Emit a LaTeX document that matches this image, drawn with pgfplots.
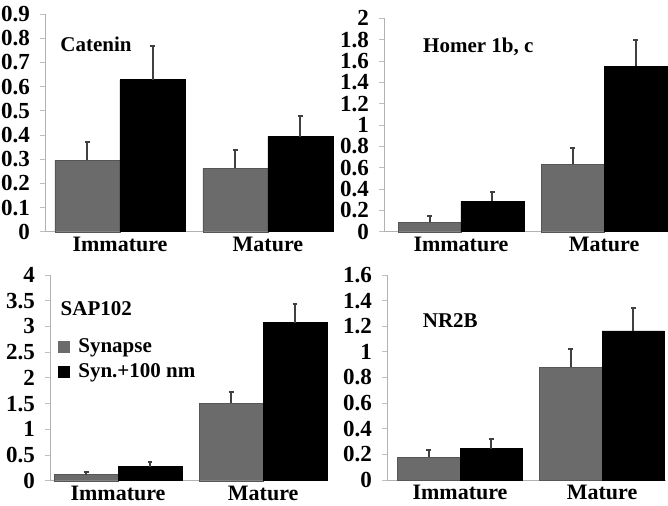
\documentclass[border=0pt]{standalone}
\usepackage{pgfplots}
\usepackage{pgfplotstable}
\pgfplotsset{compat=1.18}
\usepackage{fontspec}
\setmainfont{Liberation Serif}[BoldFont={Liberation Serif Bold}]
\definecolor{bargray}{HTML}{6B6B6B}
\definecolor{errcol}{HTML}{404040}

\pgfplotstableread{
x g ge b be
0 0.295 0.077 0.628 0.140
1 0.262 0.074 0.393 0.087
}\catenin
\pgfplotstableread{
x g ge b be
0 0.088 0.059 0.284 0.088
1 0.631 0.157 1.550 0.247
}\homer
\pgfplotstableread{
x g ge b be
0 0.120 0.055 0.270 0.090
1 1.510 0.210 3.070 0.360
}\sap
\pgfplotstableread{
x g ge b be
0 0.177 0.057 0.245 0.072
1 0.879 0.146 1.163 0.177
}\nrb

\tikzset{ttl/.style={font=\bfseries\fontsize{10.5}{12}\selectfont, anchor=west, fill=white, inner sep=1pt}}
\pgfplotsset{
  panel/.style={
    scale only axis,
    anchor=south west,
    axis x line=bottom,
    axis y line=left,
    axis line style={draw=gray!60, line width=0.5pt, -},
    ymin=0,
    xtick={0,1},
    xticklabels={Immature,Mature},
    xtick style={draw=none},
    ytick style={draw=gray!50, line width=0.4pt},
    tick align=outside,
    major tick length=2.5pt,
    /pgf/number format/assume math mode=true,
    /pgf/number format/fixed,
    /pgf/number format/precision=1,
    yticklabel style={font=\bfseries\fontsize{11.5}{12}\selectfont, xshift=-1.5pt},
    xticklabel style={font=\bfseries\fontsize{11}{12}\selectfont, yshift=3.5pt},
    ybar,
    bar width=0.44,
    clip=false,
    error bars/y dir=plus,
    error bars/y explicit,
    error bars/error bar style={line width=1pt, color=errcol},
    error bars/error mark options={line width=1pt, color=errcol, mark size=1.2pt, rotate=90},
  },
  gbar/.style={fill=bargray, draw=bargray!80!black, line width=0.2pt, bar shift=-0.22},
  bbar/.style={fill=black, draw=black, bar shift=0.22},
}

\begin{document}
\begin{tikzpicture}
\useasboundingbox (0,0) rectangle (334pt,252.5pt);

% Catenin
\begin{axis}[panel, at={(22.5pt,136.65pt)}, width=144pt, height=108.85pt,
  xmin=-0.507, xmax=1.44, ymax=0.9, ytick={0,0.1,...,0.9}]
  \addplot[gbar] table[x=x, y=g, y error=ge] {\catenin};
  \addplot[bbar] table[x=x, y=b, y error=be] {\catenin};
  \node[ttl] at (rel axis cs:0.045,0.862) {Catenin};
\end{axis}

% Homer
\begin{axis}[panel, at={(192pt,136.65pt)}, width=141.5pt, height=106.7pt,
  xmin=-0.538, xmax=1.44, ymax=2, ytick={0,0.2,...,2}]
  \addplot[gbar] table[x=x, y=g, y error=ge] {\homer};
  \addplot[bbar] table[x=x, y=b, y error=be] {\homer};
  \node[ttl] at (rel axis cs:0.13,0.866) {Homer 1b, c};
\end{axis}

% SAP102
\begin{axis}[panel, at={(25pt,12.15pt)}, width=138.5pt, height=102.85pt,
  xmin=-0.469, xmax=1.44, ymax=4, ytick={0,0.5,...,4},
  legend cell align=left,
  legend style={at={(rel axis cs:0.02,0.72)}, anchor=north west, draw=none, fill=white,
    font=\bfseries\fontsize{10.5}{12}\selectfont, inner sep=1pt, row sep=0pt,
    /tikz/every even column/.append style={column sep=2pt}},
  legend image code/.code={\draw[#1, draw=none] (0pt,-3pt) rectangle (6pt,3pt); \path (8pt,0pt);}]
  \addplot[gbar] table[x=x, y=g, y error=ge] {\sap};
  \addlegendentry{Synapse}
  \addplot[bbar] table[x=x, y=b, y error=be] {\sap};
  \addlegendentry{Syn.+100 nm}
  \node[ttl] at (rel axis cs:0.03,0.838) {SAP102};
\end{axis}

% NR2B
\begin{axis}[panel, at={(193.5pt,12.5pt)}, width=139.5pt, height=102.5pt,
  xmin=-0.514, xmax=1.45, ymax=1.6, ytick={0,0.2,...,1.6}]
  \addplot[gbar] table[x=x, y=g, y error=ge] {\nrb};
  \addplot[bbar] table[x=x, y=b, y error=be] {\nrb};
  \node[ttl] at (rel axis cs:0.12,0.78) {NR2B};
\end{axis}
\end{tikzpicture}
\end{document}
